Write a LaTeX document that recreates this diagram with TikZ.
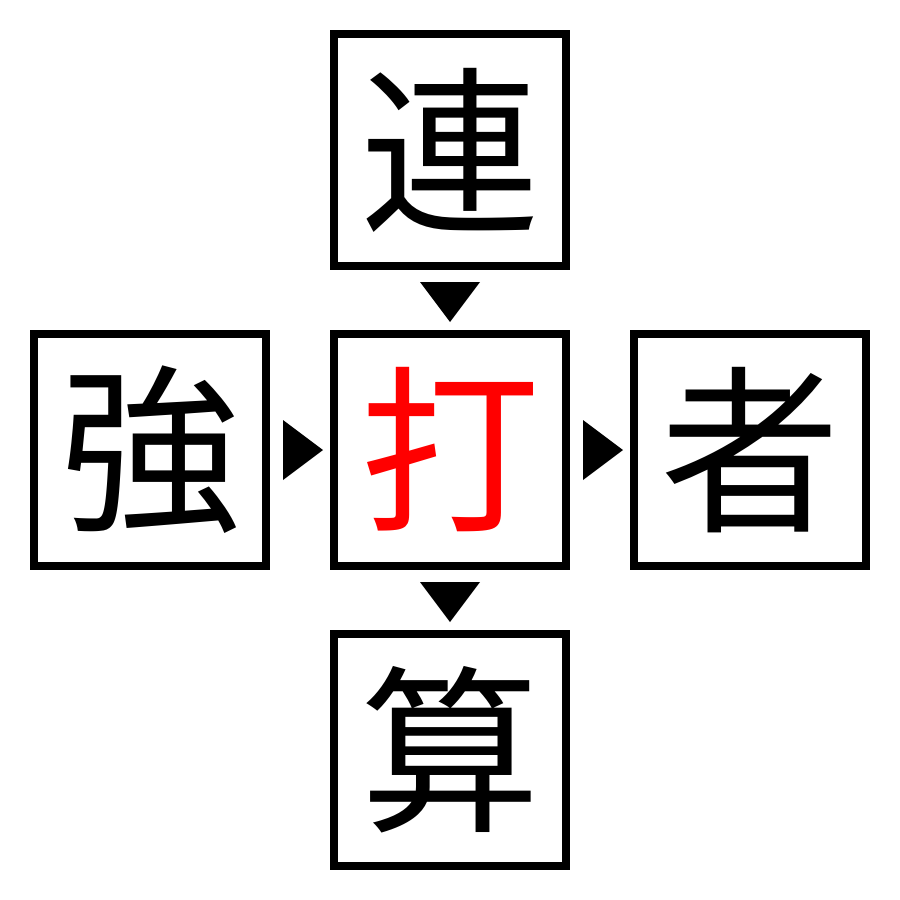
\documentclass[tikz,border=0pt]{standalone}
\usepackage{fontspec}
\newfontfamily\cjk{Noto Sans CJK JP}
\begin{document}
\begin{tikzpicture}[x=1pt,y=-1pt,
  box/.style={draw=black,line width=8pt,minimum size=232pt,inner sep=0pt,font=\cjk\fontsize{180}{180}\selectfont},
  tri/.style={fill=black}]
\useasboundingbox (0,0) rectangle (900,900);
\node[box] (top) at (450,150) {連};
\node[box] (left) at (150,450) {強};
\node[box,text=red] (mid) at (450,450) {打};
\node[box] (right) at (750,450) {者};
\node[box] (bot) at (450,750) {算};
\fill[tri] (420,282) -- (480,282) -- (450,322) -- cycle;
\fill[tri] (420,582) -- (480,582) -- (450,622) -- cycle;
\fill[tri] (283,420) -- (283,480) -- (323,450) -- cycle;
\fill[tri] (583,420) -- (583,480) -- (623,450) -- cycle;
\end{tikzpicture}
\end{document}
